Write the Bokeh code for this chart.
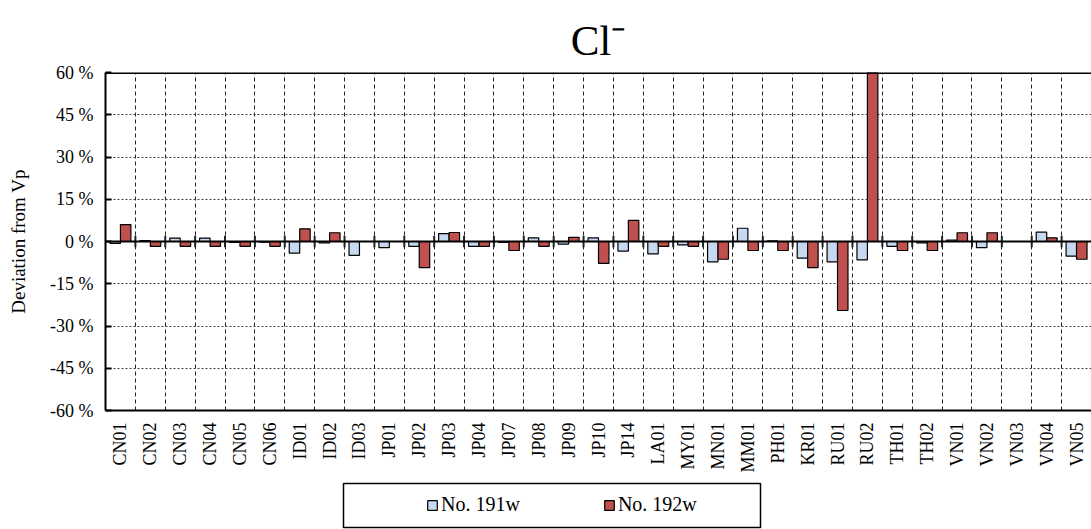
import numpy as np
from bokeh.plotting import figure
from bokeh.layouts import column
from bokeh.models import (Range1d, FixedTicker, Span, Label, Legend, LegendItem,
                          ColumnDataSource)
from bokeh.embed import file_html
from bokeh.resources import INLINE

categories = ["CN01", "CN02", "CN03", "CN04", "CN05", "CN06", "ID01", "ID02", "ID03",
              "JP01", "JP02", "JP03", "JP04", "JP07", "JP08", "JP09", "JP10", "JP14",
              "LA01", "MY01", "MN01", "MM01", "PH01", "KR01", "RU01", "RU02",
              "TH01", "TH02", "VN01", "VN02", "VN03", "VN04", "VN05"]
no191w = [-0.7, 0.3, 1.2, 1.2, -0.3, -0.2, -4.1, -0.5, -4.9,
          -2.2, -1.7, 2.8, -1.7, -0.3, 1.3, -0.9, 1.3, -3.4,
          -4.4, -1.2, -7.2, 4.7, 0.2, -5.9, -7.2, -6.5,
          -1.7, -0.5, 0.5, -2.2, 0.0, 3.3, -5.2]
no192w = [6.0, -1.7, -1.7, -1.7, -1.7, -1.7, 4.5, 3.1, 0.0,
          0.0, -9.3, 3.2, -1.7, -3.2, -1.7, 1.5, -7.8, 7.5,
          -1.7, -1.7, -6.3, -3.2, -3.2, -9.3, -24.5, 324.2,
          -3.2, -3.2, 3.1, 3.1, 0.0, 1.3, -6.3]
y_ticks = [-60, -45, -30, -15, 0, 15, 30, 45, 60]
series_names = ["No. 191w", "No. 192w"]
over_label = "324.2%"
colors = ["#C6D9F1", "#C0504D"]

FONT = "Liberation Serif"
n = len(categories)
centers = np.arange(n) + 0.5
bounds = list(range(0, n + 1))

P_H = 475
p = figure(width=1091, height=P_H, output_backend="svg", toolbar_location=None,
           x_range=Range1d(0, n), y_range=Range1d(-60, 60),
           min_border_left=105, min_border_right=0, min_border_top=72,
           min_border_bottom=65)
p.background_fill_color = "white"
p.border_fill_color = "white"
p.outline_line_color = None

p.title.text = "Cl\u207b"
p.title.align = "center"
p.title.text_font = FONT
p.title.text_font_size = "43px"
p.title.text_font_style = "normal"
p.title.text_color = "black"
p.title.standoff = 18

src = ColumnDataSource(dict(x1=centers - 0.175, x2=centers + 0.175,
                            a=no191w, b=no192w))
r1 = p.vbar(x="x1", top="a", bottom=0, width=0.35, source=src,
            fill_color=colors[0], line_color="black", line_width=1.2)
r2 = p.vbar(x="x2", top="b", bottom=0, width=0.35, source=src,
            fill_color=colors[1], line_color="black", line_width=1.2)

# grids
p.xgrid.ticker = FixedTicker(ticks=bounds)
p.xgrid.grid_line_color = "#222222"
p.xgrid.grid_line_dash = "4 3"
p.xgrid.grid_line_width = 1
p.ygrid.ticker = FixedTicker(ticks=y_ticks)
p.ygrid.grid_line_color = "#444444"
p.ygrid.grid_line_dash = "2 2"
p.ygrid.grid_line_width = 1

# zero line and cross ticks at category boundaries
p.add_layout(Span(location=0, dimension="width", line_color="black", line_width=2))
p.segment(x0=bounds[1:-1], x1=bounds[1:-1], y0=[-2] * (n - 1), y1=[2] * (n - 1),
          line_color="#222222", line_width=2)
p.add_layout(Span(location=60, dimension="width", line_color="black", line_width=3))

# x axis
p.xaxis.ticker = FixedTicker(ticks=list(centers))
p.xaxis.major_label_overrides = {float(c): lab for c, lab in zip(centers, categories)}
p.xaxis.major_label_orientation = np.pi / 2
p.xaxis.major_label_text_font = FONT
p.xaxis.major_label_text_font_size = "18px"
p.xaxis.major_label_text_color = "black"
p.xaxis.major_tick_line_color = None
p.xaxis.minor_tick_line_color = None
p.xaxis.axis_line_width = 2
p.xaxis.axis_line_color = "black"
p.xaxis.major_label_standoff = 6

# y axis
p.yaxis.ticker = FixedTicker(ticks=y_ticks)
p.yaxis.major_label_overrides = {t: f"{t} %" for t in y_ticks}
p.yaxis.major_label_text_font = FONT
p.yaxis.major_label_text_font_size = "18px"
p.yaxis.major_label_text_color = "black"
p.yaxis.major_tick_in = 6
p.yaxis.major_tick_out = 0
p.yaxis.major_tick_line_width = 2
p.yaxis.minor_tick_line_color = None
p.yaxis.axis_line_width = 2
p.yaxis.axis_line_color = "black"
p.yaxis.major_label_standoff = 12
p.yaxis.axis_label = "Deviation from Vp"
p.yaxis.axis_label_text_font = FONT
p.yaxis.axis_label_text_font_size = "19px"
p.yaxis.axis_label_text_font_style = "normal"
p.yaxis.axis_label_text_color = "black"
p.yaxis.axis_label_standoff = 18

# over-range label
ru = categories.index("RU02")
p.add_layout(Label(x=centers[ru] + 0.175, y=60, y_offset=3, text=over_label,
                   text_align="center", text_baseline="bottom",
                   text_font=FONT, text_font_size="16px", text_color="black"))

# legend holder figure (its data units equal page pixels)
Q_H = 529 - P_H
q = figure(width=1091, height=Q_H, output_backend="svg", toolbar_location=None,
           x_range=Range1d(105, 1091), y_range=Range1d(529, P_H),
           min_border=0, min_border_left=0, min_border_right=0,
           min_border_top=0, min_border_bottom=0)
q.axis.visible = False
q.grid.visible = False
q.outline_line_color = None
q.background_fill_color = "white"
q.border_fill_color = "white"
l1 = q.vbar(x="x1", top="a", bottom=0, width=0.35, source=src, visible=False,
            fill_color=colors[0], line_color="black", line_width=1.2)
l2 = q.vbar(x="x2", top="b", bottom=0, width=0.35, source=src, visible=False,
            fill_color=colors[1], line_color="black", line_width=1.2)
q.quad(left=[343], right=[760], top=[483], bottom=[527],
       fill_color=None, line_color="black", line_width=1.5)

legend = Legend(items=[LegendItem(label=series_names[0], renderers=[l1]),
                       LegendItem(label=series_names[1], renderers=[l2])],
                orientation="horizontal", location=(321, 13))
legend.label_text_font = FONT
legend.label_text_font_size = "20px"
legend.label_text_color = "black"
legend.glyph_width = 12
legend.glyph_height = 12
legend.label_standoff = 3
legend.spacing = 83
legend.padding = 10
legend.margin = 0
legend.border_line_color = None
legend.background_fill_alpha = 0
legend.inactive_fill_alpha = 0
q.add_layout(legend, "center")

layout = column(p, q, spacing=0)
open("out.html", "w").write(file_html(layout, INLINE))
